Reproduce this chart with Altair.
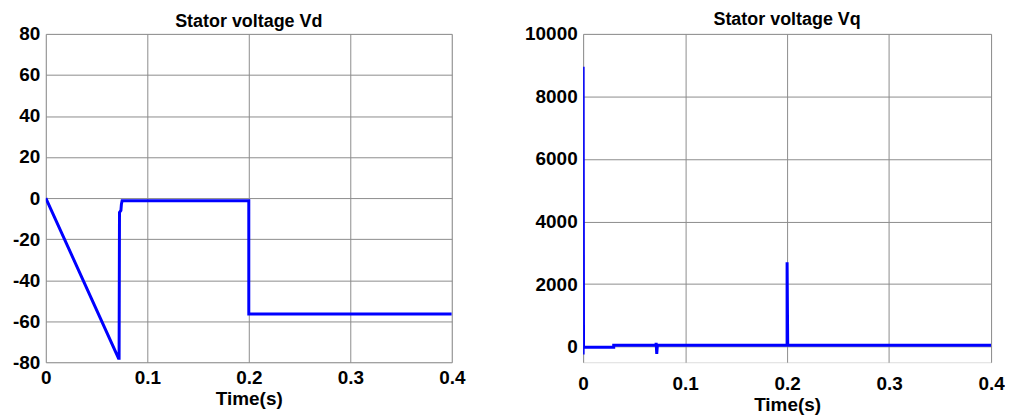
import altair as alt
import pandas as pd

# Stator voltage Vd
vd_t = [0.0, 0.0716, 0.0722, 0.0726, 0.0740, 0.0745, 0.0752, 0.2, 0.2, 0.4]
vd_v = [0.0, -78.0, -78.0, -7.0, -6.0, -3.0, -1.3, -1.3, -56.5, -56.5]

# Stator voltage Vq
vq_t = [0.0, 0.0, 0.0004, 0.030, 0.030, 0.0715, 0.0716, 0.0722, 0.0728, 0.2, 0.2, 0.2006, 0.4]
vq_v = [-250, 8950, -20, -20, 40, 40, 120, -230, 40, 40, 2700, 40, 40]

x_ticks = [0, 0.1, 0.2, 0.3, 0.4]
vd_ticks = [-80, -60, -40, -20, 0, 20, 40, 60, 80]
vq_ticks = [0, 2000, 4000, 6000, 8000, 10000]

df_d = pd.DataFrame({"t": vd_t, "v": vd_v, "i": range(len(vd_t))})
df_q = pd.DataFrame({"t": vq_t, "v": vq_v, "i": range(len(vq_t))})

FONT = "Liberation Sans"

def xaxis(label_pad, title_pad):
    return alt.Axis(values=x_ticks, title="Time(s)", labelFontSize=19, labelFontWeight="bold",
                    titleFontSize=19, titleFontWeight="bold", labelFont=FONT, titleFont=FONT,
                    grid=True, gridColor="#8c8c8c", gridWidth=1, domain=False, ticks=False,
                    labelColor="black", titleColor="black", labelPadding=label_pad,
                    titlePadding=title_pad, labelFlush=False,
                    labelExpr="'' + datum.value")

def yaxis(vals):
    return alt.Axis(values=vals, title=None, labelFontSize=19, labelFontWeight="bold",
                    labelFont=FONT, grid=True, gridColor="#8c8c8c", gridWidth=1,
                    domain=False, ticks=False, labelColor="black", labelPadding=6,
                    labelFlush=False, labelExpr="'' + datum.value")

left = alt.Chart(df_d).mark_line(color="#0000ff", strokeWidth=3, clip=True).encode(
    x=alt.X("t:Q", scale=alt.Scale(domain=[0, 0.4], nice=False), axis=xaxis(6, 2)),
    y=alt.Y("v:Q", scale=alt.Scale(domain=[-80, 80], nice=False), axis=yaxis(vd_ticks)),
    order="i:Q",
).properties(
    width=408, height=330,
    title=alt.TitleParams("Stator voltage Vd", fontSize=18, fontWeight="bold", font=FONT,
                          color="black", offset=-6),
)

right = alt.Chart(df_q).mark_line(color="#0000ff", strokeWidth=3, clip=True).encode(
    x=alt.X("t:Q", scale=alt.Scale(domain=[0, 0.4], nice=False), axis=xaxis(12, 2)),
    y=alt.Y("v:Q", scale=alt.Scale(domain=[-500, 10000], nice=False), axis=yaxis(vq_ticks)),
    order="i:Q",
).properties(
    width=410, height=330,
    title=alt.TitleParams("Stator voltage Vq", fontSize=18, fontWeight="bold", font=FONT,
                          color="black", offset=-4),
)

chart = alt.hconcat(left, right, spacing=58).properties(
    padding={"left": 4, "top": 1, "right": 0, "bottom": 0}
).configure_view(stroke="black", strokeWidth=1.5).configure(background="white")

chart.save("out.html", embed_options={"renderer": "svg", "actions": False})
